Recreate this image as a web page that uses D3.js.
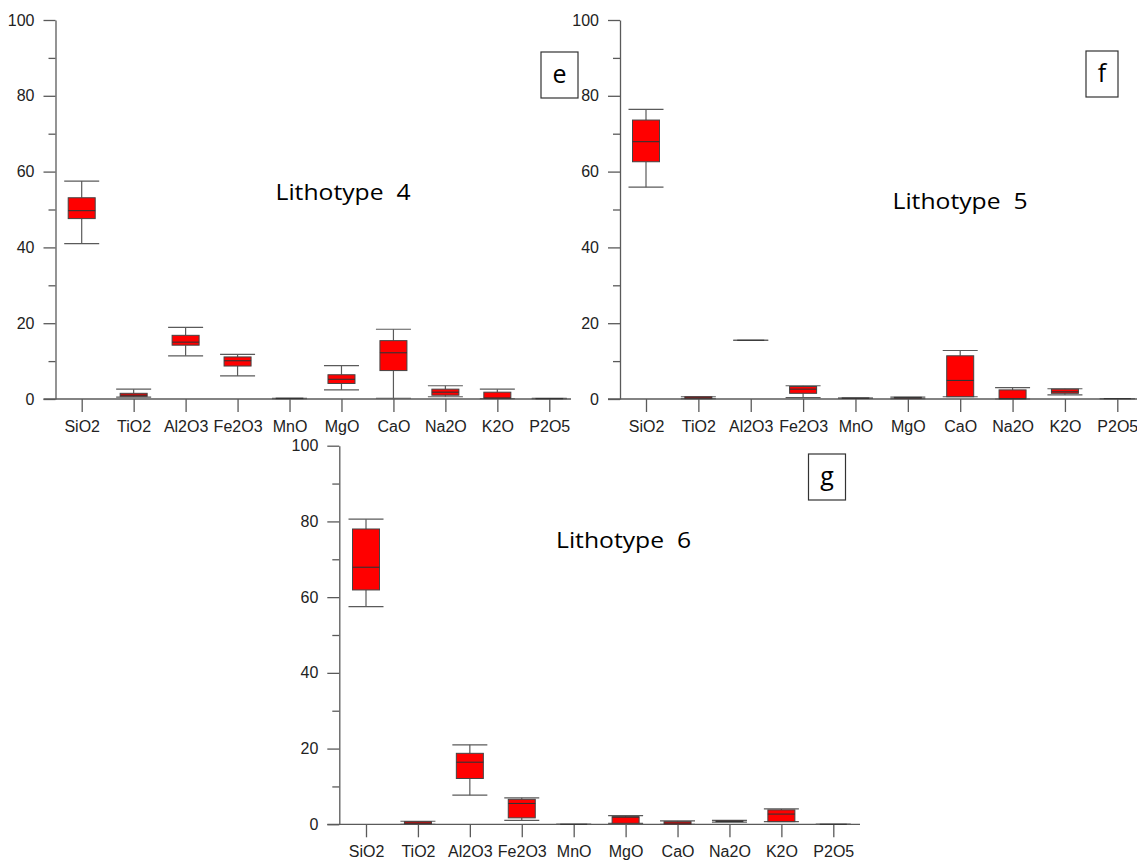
<!DOCTYPE html>
<html>
<head>
<meta charset="utf-8">
<script src="https://cdn.jsdelivr.net/npm/d3@7"></script>
<style>
  html, body { margin: 0; padding: 0; background: #fff; }
  svg { display: block; }
</style>
</head>
<body>
<svg id="chart" width="1137" height="860"></svg>
<script>
// Major oxides shown on every panel
const oxides = ["SiO2", "TiO2", "Al2O3", "Fe2O3", "MnO", "MgO", "CaO", "Na2O", "K2O", "P2O5"];
const yMajorTicks = [0, 20, 40, 60, 80, 100];
const yMinorTicks = [10, 30, 50, 70, 90];

// Box statistics per oxide (wt%): [min, q1, median, q3, max]
const lithotype4 = [
  [41.0, 47.6, 49.7, 53.1, 57.5],
  [0.5, 0.7, 1.0, 1.5, 2.6],
  [11.4, 14.2, 15.0, 16.8, 18.9],
  [6.1, 8.7, 10.1, 11.1, 11.8],
  [0.1, 0.1, 0.15, 0.2, 0.2],
  [2.4, 4.1, 5.2, 6.4, 8.8],
  [0.2, 7.5, 12.2, 15.4, 18.4],
  [0.6, 1.0, 1.8, 2.6, 3.5],
  [0.1, 0.2, 0.25, 1.8, 2.6],
  [0.1, 0.1, 0.1, 0.15, 0.15]
];
const lithotype5 = [
  [55.9, 62.6, 67.9, 73.6, 76.4],
  [0.1, 0.1, 0.3, 0.6, 0.6],
  [15.5, 15.5, 15.5, 15.5, 15.5],
  [0.35, 1.5, 2.6, 3.3, 3.5],
  [0.15, 0.2, 0.2, 0.25, 0.25],
  [0.1, 0.2, 0.3, 0.45, 0.5],
  [0.6, 0.6, 4.9, 11.4, 12.8],
  [0.0, 0.05, 0.1, 2.4, 3.0],
  [1.1, 1.5, 1.9, 2.6, 2.7],
  [0.1, 0.1, 0.1, 0.1, 0.1]
];
const lithotype6 = [
  [57.5, 61.9, 67.9, 78.0, 80.6],
  [0.0, 0.1, 0.3, 0.7, 0.8],
  [7.7, 12.1, 16.4, 18.75, 21.0],
  [1.05, 1.7, 5.5, 6.6, 7.0],
  [0.0, 0.0, 0.0, 0.0, 0.0],
  [0.26, 0.26, 1.9, 2.0, 2.3],
  [0.0, 0.0, 0.3, 0.7, 0.9],
  [0.6, 0.7, 0.8, 0.9, 1.05],
  [0.7, 0.7, 2.7, 3.8, 4.05],
  [0.0, 0.0, 0.0, 0.0, 0.0]
];

const panelTitles = ["Lithotype  4", "Lithotype  5", "Lithotype  6"];
const panelLetters = ["e", "f", "g"];

const svg = d3.select("#chart");
const tickFont = "'Liberation Sans', Arial, sans-serif";
const titleFont = "'Open Sans', 'Noto Sans', sans-serif";
const axisColor = "#5a5a5a";

// Layout of the three panels
const panels = [
  { data: lithotype4, axisX: 55.5, yTop: 20, yBottom: 399, xFirst: 81.7, xLast: 549.3, xEnd: 571,
    title: { x: 343, y: 200 }, letterBox: { x: 541, y: 52, w: 37, h: 46 } },
  { data: lithotype5, axisX: 620, yTop: 20, yBottom: 399, xFirst: 646, xLast: 1117.3, xEnd: 1137,
    title: { x: 960, y: 209 }, letterBox: { x: 1086, y: 51, w: 32, h: 46 } },
  { data: lithotype6, axisX: 339.3, yTop: 445.7, yBottom: 824.3, xFirst: 366, xLast: 833.3, xEnd: 860,
    title: { x: 623.5, y: 548 }, letterBox: { x: 808.5, y: 454, w: 37, h: 46 } }
];

const boxW = 27, capW = 35;

panels.forEach((p, i) => {
  const g = svg.append("g");
  const y = d3.scaleLinear().domain([0, 100]).range([p.yBottom, p.yTop]);
  const x = d3.scalePoint().domain(oxides).range([p.xFirst, p.xLast]);

  // y axis: labelled major ticks
  const yAxis = g.append("g")
    .attr("transform", `translate(${p.axisX},0)`)
    .call(d3.axisLeft(y).tickValues(yMajorTicks).tickSize(12).tickSizeOuter(0).tickPadding(9));
  // y axis: minor ticks
  const yMinor = g.append("g")
    .attr("transform", `translate(${p.axisX},0)`)
    .call(d3.axisLeft(y).tickValues(yMinorTicks).tickSize(7).tickSizeOuter(0).tickFormat(""));
  yMinor.select(".domain").remove();

  // x axis with category ticks
  const xAxis = g.append("g")
    .attr("transform", `translate(0,${p.yBottom})`)
    .call(d3.axisBottom(x).tickSize(13).tickSizeOuter(0).tickPadding(8.5));
  xAxis.select(".domain").remove();
  g.append("line")
    .attr("x1", p.axisX - 12).attr("x2", p.xEnd)
    .attr("y1", p.yBottom).attr("y2", p.yBottom)
    .attr("stroke", axisColor).attr("stroke-width", 1.3);

  [yAxis, yMinor, xAxis].forEach(a => {
    a.selectAll("line").attr("stroke", axisColor).attr("stroke-width", 1.3);
    a.selectAll(".domain").attr("stroke", axisColor).attr("stroke-width", 1.3);
    a.selectAll("text").attr("font-family", tickFont).attr("font-size", 16).attr("fill", "#222");
  });

  // box plots
  const boxes = g.selectAll("g.box")
    .data(p.data.map((d, k) => ({ name: oxides[k], min: d[0], q1: d[1], med: d[2], q3: d[3], max: d[4] })))
    .join("g").attr("class", "box");

  boxes.append("line") // upper whisker
    .attr("x1", d => x(d.name)).attr("x2", d => x(d.name))
    .attr("y1", d => y(d.q3)).attr("y2", d => y(d.max))
    .attr("stroke", axisColor).attr("stroke-width", 1.2);
  boxes.append("line") // lower whisker
    .attr("x1", d => x(d.name)).attr("x2", d => x(d.name))
    .attr("y1", d => y(d.q1)).attr("y2", d => y(d.min))
    .attr("stroke", axisColor).attr("stroke-width", 1.2);
  ["max", "min"].forEach(key => {
    boxes.append("line")
      .attr("x1", d => x(d.name) - capW / 2).attr("x2", d => x(d.name) + capW / 2)
      .attr("y1", d => y(d[key])).attr("y2", d => y(d[key]))
      .attr("stroke", axisColor).attr("stroke-width", 1.2);
  });
  boxes.filter(d => d.q3 > d.q1).append("rect")
    .attr("x", d => x(d.name) - boxW / 2)
    .attr("width", boxW)
    .attr("y", d => y(d.q3))
    .attr("height", d => y(d.q1) - y(d.q3))
    .attr("fill", "#ff0000")
    .attr("stroke", "#444").attr("stroke-width", 1);
  boxes.append("line") // median
    .attr("x1", d => x(d.name) - boxW / 2).attr("x2", d => x(d.name) + boxW / 2)
    .attr("y1", d => y(d.med)).attr("y2", d => y(d.med))
    .attr("stroke", "#333").attr("stroke-width", 1.1);

  // panel title
  g.append("text")
    .attr("x", p.title.x).attr("y", p.title.y)
    .attr("text-anchor", "middle")
    .attr("font-family", titleFont).attr("font-size", 22)
    .attr("textLength", 135).attr("lengthAdjust", "spacingAndGlyphs")
    .attr("fill", "#000")
    .style("white-space", "pre")
    .text(panelTitles[i]);

  // panel letter in a frame
  const lb = p.letterBox;
  g.append("rect")
    .attr("x", lb.x).attr("y", lb.y).attr("width", lb.w).attr("height", lb.h)
    .attr("fill", "#fff").attr("stroke", "#333").attr("stroke-width", 1.2);
  g.append("text")
    .attr("x", lb.x + lb.w / 2).attr("y", lb.y + lb.h / 2 + 8)
    .attr("text-anchor", "middle")
    .attr("font-family", titleFont).attr("font-size", 25)
    .attr("fill", "#000")
    .text(panelLetters[i]);
});
</script>
</body>
</html>
